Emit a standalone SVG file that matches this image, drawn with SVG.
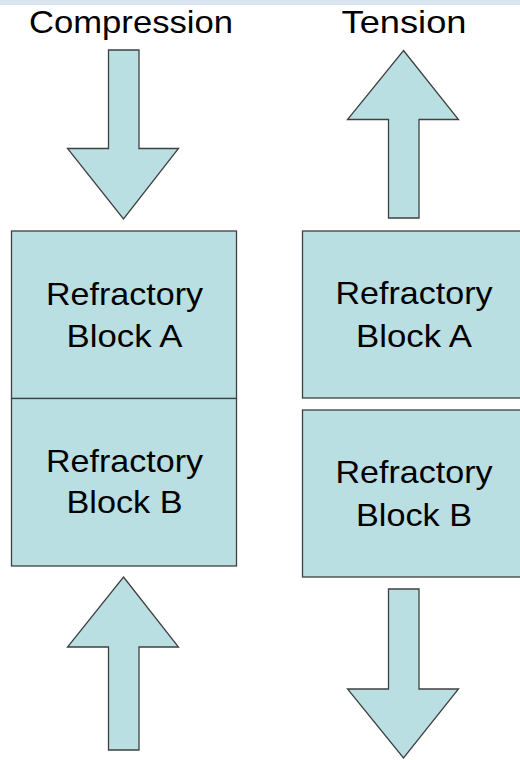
<svg xmlns="http://www.w3.org/2000/svg" width="520" height="760" viewBox="0 0 520 760">
<style>
.shape{fill:#b9dfe3;stroke:#404040;stroke-width:1.3}
.t{font-family:"Liberation Sans",Arial,sans-serif;font-size:32px;fill:#000;text-anchor:middle}
</style>
<rect x="0" y="0" width="520" height="760" fill="#fff"/>
<rect x="0" y="0" width="520" height="5" fill="#dbe5f1"/>
<g id="title-compression"><text class="t" x="131" y="33" textLength="204" lengthAdjust="spacingAndGlyphs">Compression</text></g>
<g id="title-tension"><text class="t" x="404" y="33" textLength="125" lengthAdjust="spacingAndGlyphs">Tension</text></g>
<g id="connectors">
<polygon id="arrow-comp-top" class="shape" points="108.5,50 139,50 139,148.5 178.5,148.5 123.5,219 67.5,148.5 108.5,148.5"/>
<polygon id="arrow-comp-bottom" class="shape" points="123.5,577 178.5,647 139,647 139,750 108.5,750 108.5,647 67.5,647"/>
<polygon id="arrow-ten-top" class="shape" points="403.5,50.5 458.5,119.5 419,119.5 419,218 388.5,218 388.5,119.5 347.5,119.5"/>
<polygon id="arrow-ten-bottom" class="shape" points="388.5,589 419,589 419,689 458.5,689 403.5,758 347.5,689 388.5,689"/>
</g>
<g id="comp-block-a">
<rect class="shape" x="11.5" y="231" width="225" height="167.5"/>
<text class="t" x="124.5" y="305" textLength="157" lengthAdjust="spacingAndGlyphs">Refractory</text>
<text class="t" x="124.5" y="347" textLength="116" lengthAdjust="spacingAndGlyphs">Block A</text>
</g>
<g id="comp-block-b">
<rect class="shape" x="11.5" y="398.5" width="225" height="167.5"/>
<text class="t" x="124.5" y="471.5" textLength="157" lengthAdjust="spacingAndGlyphs">Refractory</text>
<text class="t" x="124.5" y="513" textLength="116" lengthAdjust="spacingAndGlyphs">Block B</text>
</g>
<g id="ten-block-a">
<rect class="shape" x="302.5" y="231" width="225" height="167"/>
<text class="t" x="414" y="304" textLength="157" lengthAdjust="spacingAndGlyphs">Refractory</text>
<text class="t" x="414" y="347" textLength="116" lengthAdjust="spacingAndGlyphs">Block A</text>
</g>
<g id="ten-block-b">
<rect class="shape" x="302.5" y="410" width="225" height="167"/>
<text class="t" x="414" y="483" textLength="157" lengthAdjust="spacingAndGlyphs">Refractory</text>
<text class="t" x="414" y="526" textLength="116" lengthAdjust="spacingAndGlyphs">Block B</text>
</g>
</svg>
